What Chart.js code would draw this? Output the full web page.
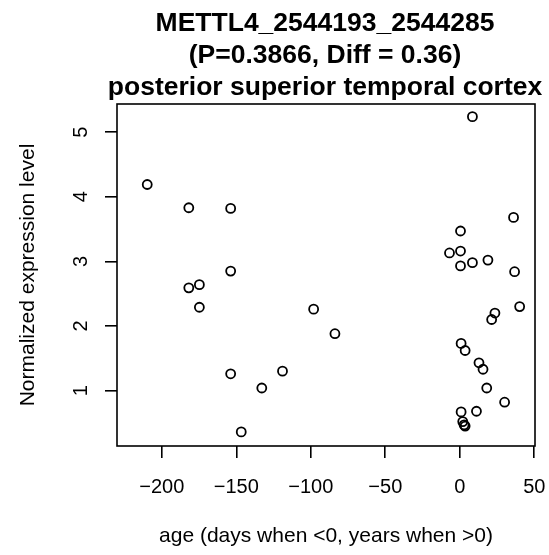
<!DOCTYPE html>
<html>
<head>
<meta charset="utf-8">
<script src="https://cdn.jsdelivr.net/npm/chart.js@4/dist/chart.umd.min.js"></script>
<style>
  html, body { margin: 0; padding: 0; background: #fff; }
  canvas { display: block; }
</style>
</head>
<body>
<canvas id="c" width="549" height="555"></canvas>
<script>
const titleLines = ['METTL4_2544193_2544285', '(P=0.3866, Diff = 0.36)', 'posterior superior temporal cortex'];
const xLabel = 'age (days when <0, years when >0)';
const yLabel = 'Normalized expression level';
const xTicks = [-200, -150, -100, -50, 0, 50];
const yTicks = [1, 2, 3, 4, 5];

// age values (days when <0, years when >0)
const ages = [-209.8, -181.9, -153.8, -153.8, -181.9, -174.8, -174.8, -98.1, -83.8, -153.8, -132.9, -119.0, -146.7,
  8.5, 36.1, 0.5, -6.9, 0.5, 0.5, 8.5, 18.9, 36.8, 40.2, 23.6, 21.4, 0.9, 3.6, 12.9, 15.6, 18.1, 30.1, 11.2, 0.9, 2.0, 2.9, 3.6];
const expr = [4.19, 3.83, 3.82, 2.85, 2.59, 2.64, 2.29, 2.26, 1.88, 1.26, 1.04, 1.30, 0.36,
  5.24, 3.68, 3.47, 3.13, 3.16, 2.93, 2.98, 3.02, 2.84, 2.30, 2.20, 2.10, 1.73, 1.62, 1.43, 1.33, 1.04, 0.82, 0.68, 0.67, 0.52, 0.47, 0.45];

const FONT = '"Liberation Sans", Arial, Helvetica, sans-serif';
const fmt = v => v < 0 ? '\u2212' + Math.abs(v) : String(v);

const rStyle = {
  id: 'rStyle',
  afterDraw(chart) {
    const {ctx, chartArea: a, scales} = chart;
    ctx.save();
    ctx.strokeStyle = '#000';
    ctx.lineWidth = 1.6;
    ctx.strokeRect(a.left, a.top, a.right - a.left, a.bottom - a.top);

    ctx.fillStyle = '#000';
    ctx.textAlign = 'center';
    ctx.textBaseline = 'alphabetic';
    const cx = (a.left + a.right) / 2;

    ctx.font = 'bold 26.5px ' + FONT;
    titleLines.forEach((t, i) => ctx.fillText(t, cx - 1, 31 + i * 32));

    ctx.font = '21px ' + FONT;
    ctx.fillText(xLabel, cx, 542);

    ctx.save();
    ctx.translate(34, (a.top + a.bottom) / 2);
    ctx.rotate(-Math.PI / 2);
    ctx.fillText(yLabel, 0, 0);
    ctx.restore();

    // y tick labels, rotated like R
    ctx.font = '20px ' + FONT;
    yTicks.forEach(v => {
      const y = scales.y.getPixelForValue(v);
      ctx.save();
      ctx.translate(87, y);
      ctx.rotate(-Math.PI / 2);
      ctx.fillText(fmt(v), 0, 0);
      ctx.restore();
    });
    ctx.restore();
  }
};

new Chart(document.getElementById('c'), {
  type: 'scatter',
  data: {
    datasets: [{
      data: ages.map((x, i) => ({x: x, y: expr[i]})),
      pointStyle: 'circle',
      pointRadius: 4.5,
      pointHoverRadius: 4.5,
      borderWidth: 1.8,
      borderColor: '#000',
      backgroundColor: 'rgba(0,0,0,0)'
    }]
  },
  options: {
    responsive: false,
    devicePixelRatio: 1,
    animation: false,
    layout: { padding: { top: 104, right: 14, left: 0, bottom: 0 } },
    plugins: { legend: { display: false }, tooltip: { enabled: false }, title: { display: false } },
    scales: {
      x: {
        type: 'linear',
        min: -230.1,
        max: 50.5,
        afterBuildTicks: s => { s.ticks = xTicks.map(v => ({value: v})); },
        afterFit: s => { s.height = 109; s.paddingLeft = 0; s.paddingRight = 0; },
        border: { display: false },
        grid: { drawOnChartArea: false, drawTicks: true, tickLength: 12, color: '#000', lineWidth: 1.6 },
        ticks: {
          color: '#000',
          font: { family: FONT, size: 20 },
          padding: 17,
          maxRotation: 0,
          autoSkip: false,
          callback: v => fmt(v)
        }
      },
      y: {
        type: 'linear',
        min: 0.142,
        max: 5.436,
        afterBuildTicks: s => { s.ticks = yTicks.map(v => ({value: v})); },
        afterFit: s => { s.width = 117; s.paddingTop = 0; s.paddingBottom = 0; },
        border: { display: false },
        grid: { drawOnChartArea: false, drawTicks: true, tickLength: 12, color: '#000', lineWidth: 1.6 },
        ticks: { display: false }
      }
    }
  },
  plugins: [rStyle]
});
</script>
</body>
</html>
